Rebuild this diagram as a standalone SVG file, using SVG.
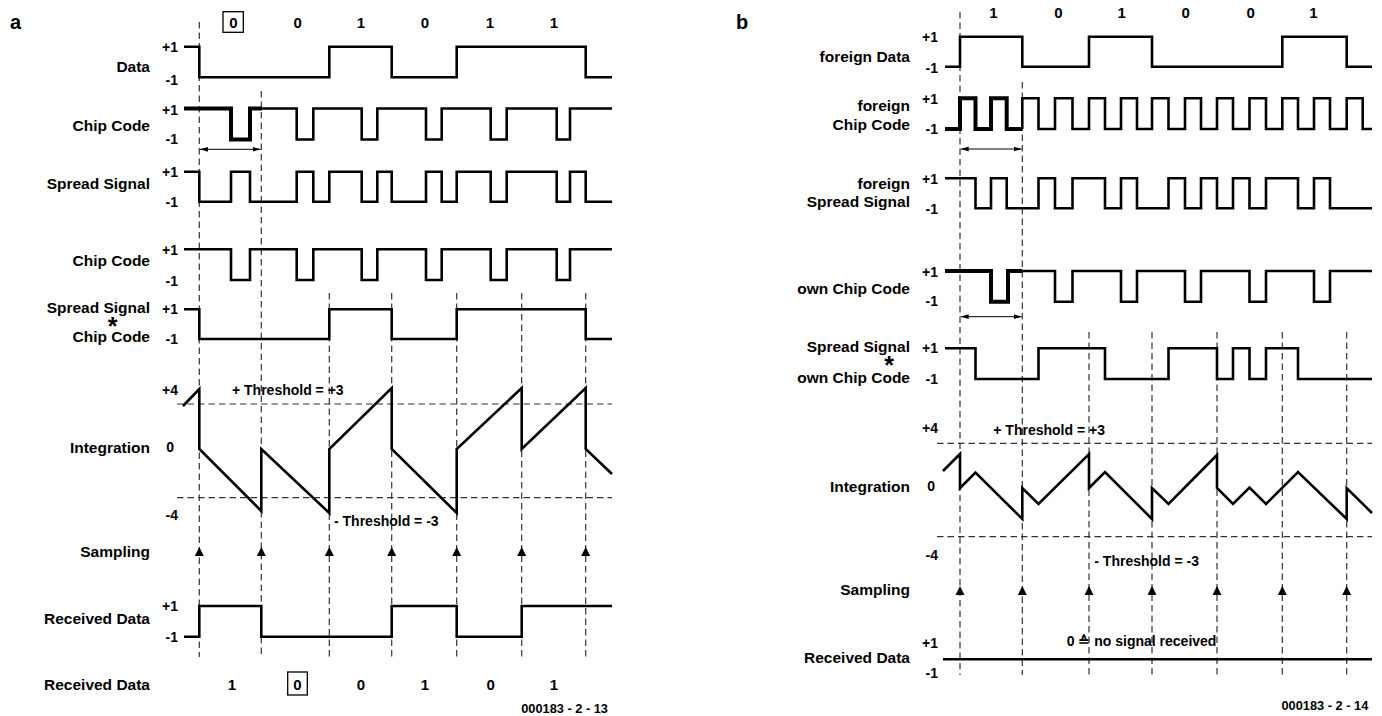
<svg xmlns="http://www.w3.org/2000/svg" width="1382" height="716" viewBox="0 0 1382 716">
<style>
text{font-family:"Liberation Sans",Arial,Helvetica,sans-serif;font-weight:bold;fill:#000}
.lbl{font-size:15.5px;text-anchor:end}
.lv{font-size:14px;text-anchor:end}
.bit{font-size:15px;text-anchor:middle}
.th{font-size:14px}
.ft{font-size:12.8px}
.pl{font-size:20px}
.star{font-size:25px;text-anchor:middle}
.w{fill:none;stroke:#000;stroke-width:2.6;stroke-linejoin:miter;stroke-linecap:butt}
.wt{stroke-width:4}
.dv{fill:none;stroke:#333;stroke-width:1.2;stroke-dasharray:6.5 4}
.dim{fill:none;stroke:#000;stroke-width:1;marker-start:url(#ah);marker-end:url(#ah)}
.box{fill:none;stroke:#000;stroke-width:1.3}
.tri{fill:#000}
</style>
<defs>
<marker id="ah" viewBox="0 0 8 6" refX="8" refY="3" markerWidth="8" markerHeight="6" markerUnits="userSpaceOnUse" orient="auto-start-reverse">
<path d="M0,0.6 L8,3 L0,5.4 Z" fill="#000"/>
</marker>
<polygon id="samp" points="-4.5,8 0,-1 4.5,8"/>
</defs>
<rect width="1382" height="716" fill="#fff"/>

<!-- ================= PANEL A ================= -->
<g id="panel-a">
<text class="pl" x="10" y="29">a</text>

<g id="a-grid">
<path class="dv" d="M199.3,22 V657 M261.3,91 V657 M329.3,293 V657 M391.7,293 V657 M456.7,293 V657 M521.7,293 V657 M585.7,293 V657"/>
<path class="dv" d="M177,404 H612 M177,497.7 H612"/>
</g>

<g id="a-bits-top">
<rect class="box" x="223" y="11.7" width="20.3" height="20.6"/>
<text class="bit" x="233.3" y="27.7">0</text>
<text class="bit" x="297.7" y="27.7">0</text>
<text class="bit" x="361" y="27.7">1</text>
<text class="bit" x="425" y="27.7">0</text>
<text class="bit" x="490" y="27.7">1</text>
<text class="bit" x="554" y="27.7">1</text>
</g>

<g id="a-data">
<text class="lbl" x="150" y="71.7">Data</text>
<text class="lv" x="178" y="52">+1</text>
<text class="lv" x="178" y="85">-1</text>
<path class="w" d="M184,46.7 H199.3 V77.3 H329.3 V46.7 H391.7 V77.3 H456.7 V46.7 H585.7 V77.3 H612"/>
</g>

<g id="a-chip1">
<text class="lbl" x="150" y="130.5">Chip Code</text>
<text class="lv" x="178" y="115">+1</text>
<text class="lv" x="178" y="144">-1</text>
<path class="w wt" d="M184,108.5 H231 V139.5 H250 V108.5 H262"/>
<path class="w" d="M262,108.5 H296.7 V139.5 H313.3 V108.5 H361.7 V139.5 H377.3 V108.5 H426 V139.5 H441.7 V108.5 H490.7 V139.5 H506.7 V108.5 H556.7 V139.5 H570 V108.5 H612"/>
<path class="dim" d="M200,149.3 H260.6"/>
</g>

<g id="a-spread">
<text class="lbl" x="150" y="189">Spread Signal</text>
<text class="lv" x="178" y="177">+1</text>
<text class="lv" x="178" y="207">-1</text>
<path class="w" d="M184,171.7 H199.3 V201.7 H231 V171.7 H250 V201.7 H296.7 V171.7 H313.3 V201.7 H329.3 V171.7 H361.7 V201.7 H377.3 V171.7 H391.7 V201.7 H426 V171.7 H441.7 V201.7 H456.7 V171.7 H490.7 V201.7 H506.7 V171.7 H556.7 V201.7 H570 V171.7 H585.7 V201.7 H612"/>
</g>

<g id="a-chip2">
<text class="lbl" x="150" y="266">Chip Code</text>
<text class="lv" x="178" y="255">+1</text>
<text class="lv" x="178" y="286">-1</text>
<path class="w" d="M184,249.3 H231 V280 H250 V249.3 H296.7 V280 H313.3 V249.3 H361.7 V280 H377.3 V249.3 H426 V280 H441.7 V249.3 H490.7 V280 H506.7 V249.3 H556.7 V280 H570 V249.3 H612"/>
</g>

<g id="a-product">
<text class="lbl" x="150" y="313.3">Spread Signal</text>
<text class="star" x="112.7" y="335">*</text>
<text class="lbl" x="150" y="341.7">Chip Code</text>
<text class="lv" x="178" y="314">+1</text>
<text class="lv" x="178" y="344">-1</text>
<path class="w" d="M184,309.3 H199.3 V339 H329.3 V309.3 H391.7 V339 H456.7 V309.3 H585.7 V339 H612"/>
</g>

<g id="a-integration">
<text class="lbl" x="150" y="452.7">Integration</text>
<text class="lv" x="178" y="395">+4</text>
<text class="lv" x="174" y="452">0</text>
<text class="lv" x="178" y="520">-4</text>
<text class="th" x="232" y="395">+ Threshold = +3</text>
<text class="th" x="334" y="526">- Threshold = -3</text>
<path class="w" d="M183,406 L199.3,389 V449 L261.3,511 V449 L329.3,513 V449 L391.7,388 V449 L456.7,513 V449 L521.7,388 V449 L585.7,388 V449 L612,474"/>
</g>

<g id="a-sampling">
<text class="lbl" x="150" y="556.7">Sampling</text>
<use href="#samp" class="tri" x="199.3" y="548"/>
<use href="#samp" class="tri" x="261.3" y="548"/>
<use href="#samp" class="tri" x="329.3" y="548"/>
<use href="#samp" class="tri" x="391.7" y="548"/>
<use href="#samp" class="tri" x="456.7" y="548"/>
<use href="#samp" class="tri" x="521.7" y="548"/>
<use href="#samp" class="tri" x="585.7" y="548"/>
</g>

<g id="a-received">
<text class="lbl" x="150" y="624">Received Data</text>
<text class="lv" x="178" y="611">+1</text>
<text class="lv" x="178" y="642">-1</text>
<path class="w" d="M184,636.7 H199.3 V606 H261.3 V636.7 H391.7 V606 H456.7 V636.7 H521.7 V606 H612"/>
</g>

<g id="a-bits-bottom">
<text class="lbl" x="150" y="690">Received Data</text>
<text class="bit" x="232" y="690">1</text>
<rect class="box" x="287.7" y="672" width="19.6" height="23"/>
<text class="bit" x="297.5" y="690">0</text>
<text class="bit" x="361" y="690">0</text>
<text class="bit" x="425" y="690">1</text>
<text class="bit" x="490.7" y="690">0</text>
<text class="bit" x="554" y="690">1</text>
</g>
<text class="ft" x="608" y="712.7" text-anchor="end">000183 - 2 - 13</text>
</g>

<!-- ================= PANEL B ================= -->
<g id="panel-b">
<text class="pl" x="736" y="29">b</text>

<g id="b-grid">
<path class="dv" d="M960,12 V675 M1022.3,82 V675 M1089,332 V675 M1152,332 V675 M1217,332 V675 M1282.3,332 V675 M1346.7,332 V675"/>
<path class="dv" d="M937,443.3 H1372 M937,536.7 H1372"/>
</g>

<g id="b-bits-top">
<text class="bit" x="993.3" y="18.3">1</text>
<text class="bit" x="1058.3" y="18.3">0</text>
<text class="bit" x="1121.7" y="18.3">1</text>
<text class="bit" x="1185.7" y="18.3">0</text>
<text class="bit" x="1250.7" y="18.3">0</text>
<text class="bit" x="1313.3" y="18.3">1</text>
</g>

<g id="b-fdata">
<text class="lbl" x="910" y="61.5">foreign Data</text>
<text class="lv" x="938" y="41.7">+1</text>
<text class="lv" x="938" y="73.3">-1</text>
<path class="w" d="M945,66.7 H960 V36.7 H1022.3 V66.7 H1089 V36.7 H1152 V66.7 H1282.3 V36.7 H1346.7 V66.7 H1372"/>
</g>

<g id="b-fchip">
<text class="lbl" x="910" y="111">foreign</text>
<text class="lbl" x="910" y="129.5">Chip Code</text>
<text class="lv" x="938" y="104.3">+1</text>
<text class="lv" x="938" y="134.3">-1</text>
<path class="w wt" d="M945,129 H960 V98.3 H975.5 V129 H991 V98.3 H1006.7 V129 H1022.3"/>
<path class="w" d="M1022.3,129 V98.3 H1038.5 V129 H1055 V98.3 H1072.5 V129 H1089 V98.3 H1105 V129 H1121 V98.3 H1137 V129 H1152 V98.3 H1168.5 V129 H1185 V98.3 H1201 V129 H1217 V98.3 H1233 V129 H1249.5 V98.3 H1266 V129 H1282.3 V98.3 H1298 V129 H1314 V98.3 H1330 V129 H1346.7 V98.3 H1362.7 V129 H1372"/>
<path class="dim" d="M960.7,149 H1021.6"/>
</g>

<g id="b-fspread">
<text class="lbl" x="910" y="189.3">foreign</text>
<text class="lbl" x="910" y="206.7">Spread Signal</text>
<text class="lv" x="938" y="184">+1</text>
<text class="lv" x="938" y="214">-1</text>
<path class="w" d="M945,178.3 H975.5 V208.3 H991 V178.3 H1006.7 V208.3 H1038.5 V178.3 H1055 V208.3 H1072.5 V178.3 H1105 V208.3 H1121 V178.3 H1137 V208.3 H1168.5 V178.3 H1185 V208.3 H1201 V178.3 H1217 V208.3 H1233 V178.3 H1249.5 V208.3 H1266 V178.3 H1298 V208.3 H1314 V178.3 H1330 V208.3 H1372"/>
</g>

<g id="b-ownchip">
<text class="lbl" x="910" y="294">own Chip Code</text>
<text class="lv" x="938" y="276.7">+1</text>
<text class="lv" x="938" y="306">-1</text>
<path class="w wt" d="M945,271 H991 V301.7 H1008 V271 H1022.3"/>
<path class="w" d="M1022.3,271 H1055 V301.7 H1072.5 V271 H1121 V301.7 H1137 V271 H1185 V301.7 H1201 V271 H1249.5 V301.7 H1266 V271 H1314 V301.7 H1330 V271 H1372"/>
<path class="dim" d="M960.7,316.7 H1021.6"/>
</g>

<g id="b-product">
<text class="lbl" x="910" y="352.3">Spread Signal</text>
<text class="star" x="889" y="374">*</text>
<text class="lbl" x="910" y="383.3">own Chip Code</text>
<text class="lv" x="938" y="353.3">+1</text>
<text class="lv" x="938" y="384.3">-1</text>
<path class="w" d="M945,348.3 H975.5 V379 H1038.5 V348.3 H1105 V379 H1168.5 V348.3 H1217 V379 H1233 V348.3 H1249.5 V379 H1266 V348.3 H1298 V379 H1372"/>
</g>

<g id="b-integration">
<text class="lbl" x="910" y="491.7">Integration</text>
<text class="lv" x="938" y="433.3">+4</text>
<text class="lv" x="935" y="491">0</text>
<text class="lv" x="938" y="560">-4</text>
<text class="th" x="993.3" y="435">+ Threshold = +3</text>
<text class="th" x="1094.3" y="566">- Threshold = -3</text>
<path class="w" d="M943,471 L960,454 V488 L975.5,472.5 L1022.3,519 V488 L1038.5,504 L1089,454 V488 L1105,472 L1152,519 V488 L1168.5,504 L1217,455 V488 L1233,504 L1249.5,487.5 L1266,504 L1298,472 L1346.7,519 V488 L1372,513"/>
</g>

<g id="b-sampling">
<text class="lbl" x="910" y="595">Sampling</text>
<use href="#samp" class="tri" x="960" y="587"/>
<use href="#samp" class="tri" x="1022.3" y="587"/>
<use href="#samp" class="tri" x="1089" y="587"/>
<use href="#samp" class="tri" x="1152" y="587"/>
<use href="#samp" class="tri" x="1217" y="587"/>
<use href="#samp" class="tri" x="1282.3" y="587"/>
<use href="#samp" class="tri" x="1346.7" y="587"/>
</g>

<g id="b-received">
<text class="lbl" x="910" y="662.7">Received Data</text>
<text class="lv" x="938" y="648.3">+1</text>
<text class="lv" x="938" y="678.3">-1</text>
<text class="th" x="1066.7" y="646">0 ≙  no signal received</text>
<path class="w" d="M943,659.3 H1372"/>
</g>
<text class="ft" x="1368.3" y="710" text-anchor="end">000183 - 2 - 14</text>
</g>
</svg>
